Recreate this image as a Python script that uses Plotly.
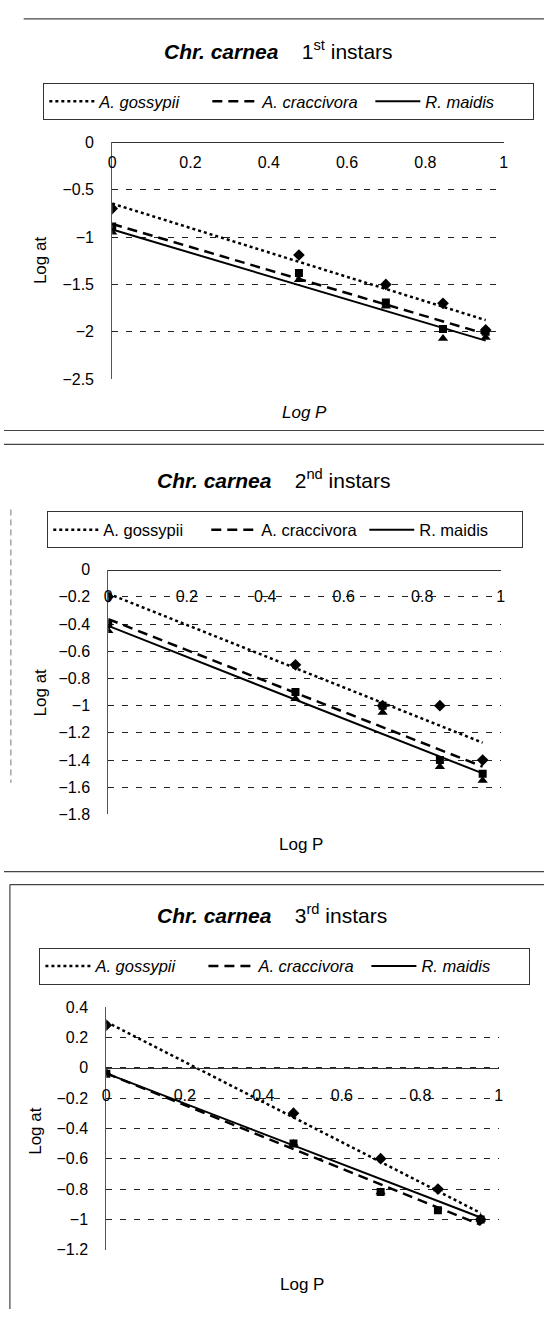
import numpy as np
import plotly.graph_objects as go

# ---------------- data ----------------
logp = [0.0, 0.477, 0.699, 0.845, 0.954]
species = ["A. gossypii", "A. craccivora", "R. maidis"]
instar_labels = ["1<sup>st</sup>", "2<sup>nd</sup>", "3<sup>rd</sup>"]

gos1 = [-0.70, -1.19, -1.50, -1.70, -1.98]
cra1 = [-0.89, -1.38, -1.69, -1.97, -2.00]
mai1 = [-0.95, -1.45, -1.73, -2.07, -2.06]

gos2 = [-0.20, -0.70, -1.00, -1.00, -1.40]
cra2 = [-0.40, -0.90, -1.00, -1.40, -1.50]
mai2 = [-0.45, -0.95, -1.05, -1.45, -1.55]

gos3 = [0.28, -0.30, -0.60, -0.80, -1.00]
cra3 = [-0.04, -0.50, -0.82, -0.94, -1.00]
mai3 = [-0.03, -0.50, -0.82, -0.80, -1.00]

x_ticks = [0, 0.2, 0.4, 0.6, 0.8, 1]

# ---------------- layout helpers ----------------
W, H = 549, 1318
def px(x):
    return x / W
def py(y):
    return 1 - y / H

FONT = "Liberation Sans, Arial, sans-serif"
line_dash = ["dot", "10px,6px", "solid"]
line_w = [2.5, 2.5, 2]
symbols = ["diamond", "square", "triangle-up"]
msize = [9, 8, 9]

panels = [
    dict(data=[gos1, cra1, mai1], yr=[-2.5, 0], dt=0.5, xpx=(110, 508), ypx=(136, 376),
         ital=True, title_xy=(279, 43), legend_xy=(40, 76), legend_w=103,
         logp_xy=(305, 410), logat_xy=(37, 255), xstand=6),
    dict(data=[gos2, cra2, mai2], yr=[-1.8, 0], dt=0.2, xpx=(106, 505), ypx=(569, 817),
         ital=False, title_xy=(274, 477), legend_xy=(44, 510), legend_w=98,
         logp_xy=(302, 847), logat_xy=(37, 693), xstand=12),
    dict(data=[gos3, cra3, mai3], yr=[-1.2, 0.4], dt=0.2, xpx=(104, 503), ypx=(1012, 1258),
         ital=True, title_xy=(272, 918), legend_xy=(36, 952), legend_w=103,
         logp_xy=(303, 1293), logat_xy=(32, 1137), xstand=13),
]

fig = go.Figure()
layout = dict(
    width=W, height=H, margin=dict(l=0, r=0, t=0, b=0),
    paper_bgcolor="white", plot_bgcolor="white",
    font=dict(family=FONT, color="black", size=15),
    showlegend=True,
)
annotations = []
shapes = []

def note(text, x, y, size, angle=0):
    return dict(text=text, x=px(x), y=py(y), xref="paper", yref="paper",
                xanchor="center", yanchor="middle", showarrow=False,
                textangle=angle, font=dict(size=size, family=FONT, color="black"))

for i, p in enumerate(panels):
    n = "" if i == 0 else str(i + 1)
    xa, ya = "x" + n, "y" + n
    leg = "legend" + n
    x = np.array(logp)
    for k in range(3):
        y = np.array(p["data"][k])
        slope, icpt = np.polyfit(x, y, 1)
        xl = np.array([x.min(), x.max()])
        name = f"<i>{species[k]}</i>" if p["ital"] else species[k]
        fig.add_trace(go.Scatter(
            x=xl, y=slope * xl + icpt, mode="lines", name=name,
            line=dict(color="black", width=line_w[k], dash=line_dash[k]),
            xaxis=xa, yaxis=ya, legend=leg, hoverinfo="skip"))
    for k in range(3):
        fig.add_trace(go.Scatter(
            x=x, y=p["data"][k], mode="markers", showlegend=False,
            marker=dict(symbol=symbols[k], size=msize[k], color="black"),
            xaxis=xa, yaxis=ya))

    x0, x1 = p["xpx"]
    ytop, ybot = p["ypx"]
    d0, d1 = py(ybot), py(ytop)
    ymin, ymax = p["yr"]
    zero_pos = d0 + (0 - ymin) / (ymax - ymin) * (d1 - d0)

    layout["xaxis" + n] = dict(
        domain=[px(x0), px(x1)], range=[0, 1], anchor="free", position=zero_pos,
        side="bottom", tickvals=x_ticks, showgrid=False, zeroline=False,
        showline=True, linecolor="#333", linewidth=1, ticks="",
        ticklabelstandoff=p["xstand"], tickfont=dict(size=16, family=FONT, color="black"),
        fixedrange=True)
    layout["yaxis" + n] = dict(
        domain=[d0, d1], range=[ymin, ymax], anchor=xa, dtick=p["dt"], tick0=0,
        showgrid=True, gridcolor="#222", gridwidth=1, griddash="6px,8px",
        zeroline=False, showline=True, linecolor="#555", linewidth=1, ticks="",
        ticklabelstandoff=14, tickfont=dict(size=16, family=FONT, color="black"),
        fixedrange=True)

    lx, ly = p["legend_xy"]
    layout[leg] = dict(
        orientation="h", x=px(lx), y=py(ly), xanchor="left", yanchor="top",
        bordercolor="#333", borderwidth=1, bgcolor="rgba(255,255,255,0)",
        font=dict(size=16.5, family=FONT, color="black"),
        itemwidth=45, entrywidthmode="pixels", entrywidth=p["legend_w"],
        tracegroupgap=0)

    tx, ty = p["title_xy"]
    annotations.append(note(
        f"<b><i>Chr. carnea</i></b>\u00a0\u00a0\u00a0\u00a0{instar_labels[i]} instars",
        tx, ty, 21))
    lpx, lpy = p["logp_xy"]
    annotations.append(note("<i>Log P</i>" if i == 0 else "Log P", lpx, lpy, 17))
    lax, lay = p["logat_xy"]
    annotations.append(note("Log at", lax, lay, 17, angle=-90))

# separator lines from the scanned page
for (xa0, xa1, yy) in [(20, 549, 11), (0, 549, 428), (0, 549, 442), (0, 549, 875), (6, 549, 888)]:
    shapes.append(dict(type="line", xref="paper", yref="paper",
                       x0=px(xa0), x1=px(xa1), y0=py(yy), y1=py(yy),
                       line=dict(color="#444", width=1.2)))
shapes.append(dict(type="line", xref="paper", yref="paper",
                   x0=px(6), x1=px(6), y0=py(888), y1=py(1318),
                   line=dict(color="#444", width=1.2)))
shapes.append(dict(type="line", xref="paper", yref="paper",
                   x0=px(7), x1=px(7), y0=py(508), y1=py(785),
                   line=dict(color="#777", width=1, dash="6px,4px")))

layout["annotations"] = annotations
layout["shapes"] = shapes
fig.update_layout(**layout)
fig.write_html(
    "out.html",
    config={"displayModeBar": False, "staticPlot": True},
    post_script="document.body.style.margin='0';document.body.style.overflow='hidden';",
)
